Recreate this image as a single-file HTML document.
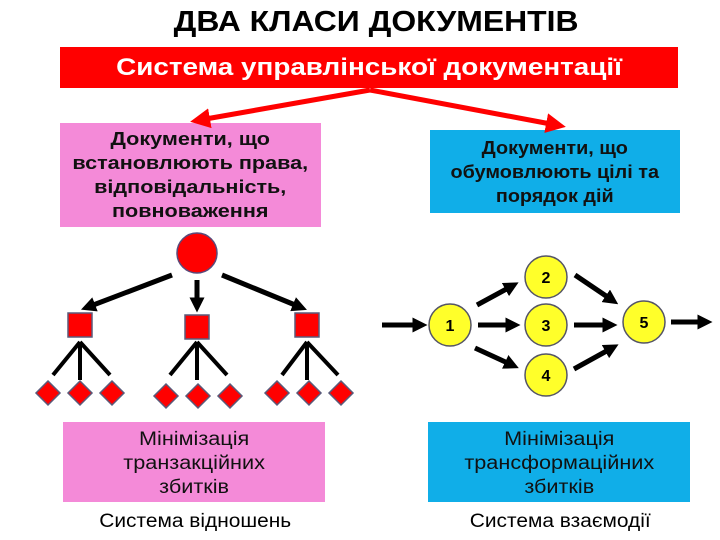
<!DOCTYPE html>
<html><head><meta charset="utf-8"><style>
body{margin:0;width:720px;height:540px;background:#fff;position:relative;overflow:hidden;font-family:"Liberation Sans",sans-serif}
.t{position:absolute;text-align:center;font-weight:bold}
.box{position:absolute;display:flex;align-items:center;justify-content:center;text-align:center;font-weight:bold;font-size:18px;line-height:24px;color:#111}
.box span,.t span{display:inline-block;white-space:nowrap}
</style></head><body>
<div class="t" style="left:16px;width:720px;top:6px;font-size:29px"><span style="transform:scaleX(1.1)">ДВА КЛАСИ ДОКУМЕНТІВ</span></div>
<div class="box" style="left:60px;top:47px;width:618px;height:41px;background:#f00;color:#fff;font-size:24px"><span style="transform:scaleX(1.16)">Система управлінської документації</span></div>
<div class="box" style="left:60px;top:123px;width:261px;height:104px;background:#f48ad8"><span style="transform:scaleX(1.2)">Документи, що<br>встановлюють права,<br>відповідальність,<br>повноваження</span></div>
<div class="box" style="left:430px;top:130px;width:250px;height:83px;background:#10aee8"><span style="transform:scaleX(1.1)">Документи, що<br>обумовлюють цілі та<br>порядок дій</span></div>
<div class="box" style="left:63px;top:422px;width:262px;height:80px;padding-top:4px;box-sizing:border-box;background:#f48ad8;font-weight:normal;font-size:19px"><span style="transform:scaleX(1.14)">Мінімізація<br>транзакційних<br>збитків</span></div>
<div class="box" style="left:428px;top:422px;width:262px;height:80px;padding-top:4px;box-sizing:border-box;background:#10aee8;font-weight:normal;font-size:19px"><span style="transform:scaleX(1.14)">Мінімізація<br>трансформаційних<br>збитків</span></div>
<div class="t" style="left:55px;width:280px;top:511px;font-size:19px;font-weight:normal"><span style="transform:scaleX(1.1)">Система відношень</span></div>
<div class="t" style="left:420px;width:280px;top:511px;font-size:19px;font-weight:normal"><span style="transform:scaleX(1.1)">Система взаємодії</span></div>
<svg width="720" height="540" style="position:absolute;left:0;top:0">
<defs>
<marker id="r" markerWidth="4" markerHeight="4" refX="2" refY="2" orient="auto" markerUnits="strokeWidth"><path d="M0,0L4,2L0,4z" fill="#f00"/></marker>
<marker id="k" markerWidth="3" markerHeight="3" refX="1.5" refY="1.5" orient="auto" markerUnits="strokeWidth"><path d="M0,0L3,1.5L0,3z" fill="#000"/></marker>
</defs>
<g stroke="#f00" stroke-width="5" marker-end="url(#r)"><line x1="370" y1="90" x2="200" y2="120"/><line x1="370" y1="90" x2="556" y2="125"/></g>
<circle cx="197" cy="253" r="20" fill="#f00" stroke="#5a4a7a" stroke-width="1.5"/>
<g stroke="#000" stroke-width="5" marker-end="url(#k)">
<line x1="172" y1="275" x2="88" y2="307"/><line x1="197" y1="280" x2="197" y2="305"/><line x1="222" y1="275" x2="300" y2="307"/>
<line x1="382" y1="325" x2="420" y2="325"/><line x1="477" y1="305" x2="512" y2="286"/><line x1="478" y1="325" x2="513" y2="325"/><line x1="475" y1="348" x2="512" y2="365"/>
<line x1="575" y1="275" x2="612" y2="300"/><line x1="574" y1="325" x2="610" y2="325"/><line x1="574" y1="369" x2="612" y2="348"/><line x1="671" y1="322" x2="705" y2="322"/>
</g>
<g stroke="#000" stroke-width="4">
<path d="M80,342L53,375M80,342V380M80,342L110,375"/>
<path d="M197,342L170,375M197,342V380M197,342L227,375"/>
<path d="M307,342L282,375M307,342V380M307,342L338,375"/>
</g>
<g fill="#f00" stroke="#5a5a7a" stroke-width="1.5">
<rect x="68" y="313" width="24" height="24"/><rect x="185" y="315" width="24" height="24"/><rect x="295" y="313" width="24" height="24"/>
<g id="d"><path d="M48,381L60,393L48,405L36,393z"/><path d="M80,381L92,393L80,405L68,393z"/><path d="M112,381L124,393L112,405L100,393z"/></g>
<use href="#d" transform="translate(118,3)"/><use href="#d" transform="translate(229,0)"/>
</g>
<g fill="#ffff2a" stroke="#556" stroke-width="1.5">
<circle cx="450" cy="325" r="21"/><circle cx="546" cy="277" r="21"/><circle cx="546" cy="325" r="21"/><circle cx="546" cy="375" r="21"/><circle cx="644" cy="322" r="21"/>
</g>
<g font-family="Liberation Sans" font-weight="bold" font-size="16" text-anchor="middle">
<text x="450" y="331">1</text><text x="546" y="283">2</text><text x="546" y="331">3</text><text x="546" y="381">4</text><text x="644" y="328">5</text>
</g>
</svg>
</body></html>
